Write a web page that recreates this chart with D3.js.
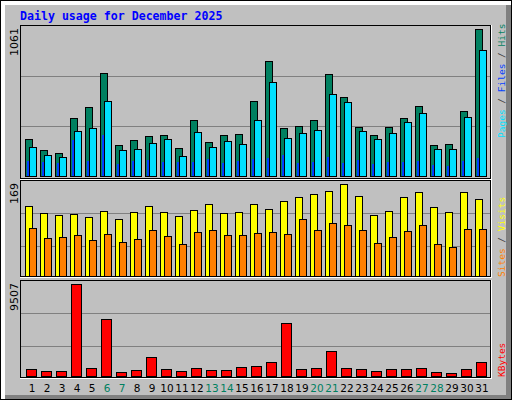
<!DOCTYPE html>
<html><head><meta charset="utf-8">
<script src="https://cdn.jsdelivr.net/npm/d3@7"></script>
<style>body{margin:0;background:#fff}</style></head>
<body><svg id="c" width="512" height="400"></svg>
<script>
const days = d3.range(1,32);
const weekend = [6,7,13,14,20,21,27,28];
const hits  = [265,185,164,416,496,741,221,258,286,294,200,402,243,294,301,539,828,344,359,402,734,568,351,294,351,416,503,221,229,467,1061];
const files = [207,149,135,322,344,539,185,193,236,265,142,315,207,250,229,402,676,272,308,330,590,532,322,265,308,388,453,193,193,424,907];
const pages = [106,99,92,260,106,296,84,106,113,99,99,99,121,92,106,121,128,149,92,99,135,92,113,84,99,99,106,77,70,106,128];
const visits= [128,116,112,114,108,119,104,117,128,117,110,121,132,116,117,132,123,138,145,151,156,169,147,112,119,145,154,127,117,154,141];
const sites = [88,69,71,75,66,77,62,68,84,73,58,81,84,75,75,79,81,77,104,84,97,93,84,60,71,82,93,58,53,86,86];
const kbytes= [763,555,555,9507,867,5864,451,659,2012,763,555,867,659,659,971,1076,1492,5447,763,867,2533,867,763,555,763,763,867,451,347,763,1492];
const maxLabels = ["1061","169","9507"];

const svg = d3.select("#c");
// frame
svg.append("rect").attr("x",0.5).attr("y",0.5).attr("width",511).attr("height",399).attr("fill","#fff").attr("stroke","#000");
svg.append("rect").attr("x",5).attr("y",5).attr("width",506).attr("height",394).attr("fill","#808080");
svg.append("rect").attr("x",5).attr("y",5).attr("width",501).attr("height",390).attr("fill","#c0c0c0");

svg.append("text").attr("x",20).attr("y",20).text("Daily usage for December 2025")
  .attr("font-family","DejaVu Sans Mono").attr("font-weight","bold").attr("font-size","11.6px").attr("fill","#0000ff");

const x = d3.scaleLinear().domain([1,31]).range([25,475]);

const panels = [
  {top:25,bottom:179,base:176,h:147,max:1061,grid:[50,100]},
  {top:180,bottom:277,base:276,h:92,max:169,grid:[30,63]},
  {top:280,bottom:378,base:376,h:92,max:9507,grid:[30,63]}
];
panels.forEach((p,i)=>{
  p.y = d3.scaleLinear().domain([0,p.max]).range([p.base,p.base-p.h]);
  svg.append("line").attr("x1",20).attr("x2",491).attr("y1",p.top+0.5).attr("y2",p.top+0.5).attr("stroke","#000");
  svg.append("line").attr("x1",20.5).attr("x2",20.5).attr("y1",p.top).attr("y2",p.bottom).attr("stroke","#000");
  svg.append("line").attr("x1",20).attr("x2",492).attr("y1",p.bottom+0.5).attr("y2",p.bottom+0.5).attr("stroke","#fff");
  svg.append("line").attr("x1",491.5).attr("x2",491.5).attr("y1",p.top).attr("y2",p.bottom+1).attr("stroke","#fff");
  svg.append("line").attr("x1",20).attr("x2",491).attr("y1",p.bottom-0.5).attr("y2",p.bottom-0.5).attr("stroke","#000");
  svg.append("line").attr("x1",490.5).attr("x2",490.5).attr("y1",p.top).attr("y2",p.bottom).attr("stroke","#000");
  p.grid.forEach(g=>svg.append("line").attr("x1",21).attr("x2",490).attr("y1",p.base-g+0.5).attr("y2",p.base-g+0.5).attr("stroke","#808080"));
  svg.append("text").attr("transform",`translate(18,${p.top+3}) rotate(-90)`).attr("text-anchor","end")
    .text(maxLabels[i]).attr("font-family","DejaVu Sans").attr("font-size","11px").attr("fill","#000");
});

function bars(data,p,dx,w,color){
  svg.append("g").selectAll("rect").data(data).join("rect")
    .attr("x",(d,i)=>x(days[i])+dx+0.5).attr("y",d=>Math.round(p.y(d))+0.5)
    .attr("width",w).attr("height",d=>p.base-Math.round(p.y(d)))
    .attr("fill",color).attr("stroke","#000");
}
bars(hits,panels[0],0,7,"#008060");
bars(files,panels[0],4,7,"#00e0ff");
svg.append("g").selectAll("rect").data(pages).join("rect")
  .attr("x",(d,i)=>x(days[i])+2).attr("y",d=>Math.round(panels[0].y(d)))
  .attr("width",2).attr("height",d=>panels[0].base-Math.round(panels[0].y(d)))
  .attr("fill","#0040ff");
bars(visits,panels[1],0,7,"#ffff00");
bars(sites,panels[1],4,7,"#ff8000");
bars(kbytes,panels[2],1,10,"#ff0000");

svg.append("g").selectAll("text").data(days).join("text")
  .attr("x",d=>x(d)+7).attr("y",392).attr("text-anchor","middle").text(d=>d)
  .attr("font-family","DejaVu Sans").attr("font-size","10.5px")
  .attr("fill",d=>weekend.includes(d)?"#008060":"#000");

function rlabel(y,parts){
  const t=svg.append("text").attr("transform",`translate(505,${y}) rotate(-90)`)
    .attr("font-family","DejaVu Sans Mono").attr("font-size","9.5px");
  parts.forEach(([s,c])=>t.append("tspan").text(s).attr("fill",c));
}
rlabel(138,[["Pages","#00e0ff"],[" / ","#404040"],["Files","#0040ff"],[" / ","#404040"],["Hits","#008060"]]);
rlabel(277,[["Sites","#ff8000"],[" / ","#404040"],["Visits","#ffff00"]]);
rlabel(377,[["KBytes","#ff0000"]]);
</script></body></html>
